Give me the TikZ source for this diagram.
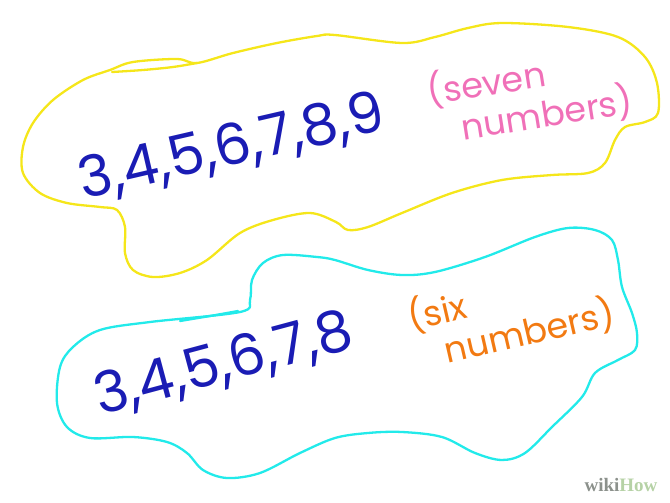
\documentclass[tikz,border=0pt]{standalone}
\usepackage{fontspec}
\setmainfont{Poppins}
\newfontfamily\wmfont{Liberation Serif}
\usetikzlibrary{positioning}
\definecolor{blobyellow}{HTML}{F5E61A}
\definecolor{blobcyan}{HTML}{22EAEA}
\definecolor{numblue}{HTML}{1A1CB4}
\definecolor{seqpink}{HTML}{F070B8}
\definecolor{seqorange}{HTML}{F27A12}
\definecolor{wmgray}{HTML}{8C918C}
\definecolor{wmgreen}{HTML}{B6D2A6}
\tikzset{
  blob/.style    ={line width=2.3pt, line join=round, line cap=round},
  numseq/.style  ={text=numblue, font=\fontsize{57}{57}\selectfont, inner sep=0pt},
  countlbl/.style={font=\fontsize{35}{34}\selectfont, align=left, inner sep=0pt},
  wm/.style      ={font=\wmfont\bfseries\fontsize{19}{19}\selectfont, inner sep=0pt},
}

\begin{document}
\begin{tikzpicture}[x=1pt,y=-1pt]
  \useasboundingbox (0,0) rectangle (670,503);
  % yellow blob
  \draw[blob, blobyellow] plot[smooth cycle, tension=0.55] coordinates {
    (110,70) (133,62) (177,59) (197,63) (233,53) (277,43) (317,36) (335,35)
    (402,43) (435,37) (468,28) (502,23) (568,27) (618,37) (645,57) (657,83)
    (658,113) (645,122) (625,127) (615,140) (605,163) (588,173) (552,175)
    (502,180) (452,193) (402,213) (368,227) (348,230) (336,222) (310,213)
    (273,220) (240,233) (207,260) (180,273) (153,277) (133,270) (125,253)
    (125,227) (117,210) (100,207) (67,203) (40,193) (23,173) (23,147)
    (33,123) (53,100) (83,80)};
  \draw[blob, blobyellow] plot[smooth, tension=0.55] coordinates {(112,72) (143,70) (173,67) (197,63)};
  % cyan blob
  \draw[blob, blobcyan] plot[smooth cycle, tension=0.55] coordinates {
    (252,280) (263,263) (283,255) (317,257) (335,260) (368,270) (402,275)
    (435,272) (485,257) (535,237) (568,228) (595,230) (612,240) (618,260)
    (622,287) (632,313) (637,333) (635,350) (618,360) (595,373) (582,397)
    (552,427) (525,453) (502,460) (475,453) (442,437) (402,432) (368,433)
    (335,438) (300,453) (260,473) (227,478) (203,470) (187,453) (167,442)
    (133,437) (90,438) (67,427) (57,403) (60,367) (73,347) (100,330)
    (150,322) (240,312) (250,300)};
  \draw[blob, blobcyan] plot[smooth, tension=0.55] coordinates {(180,321) (210,316) (238,311)};

  \node[numseq, rotate=13] (seven) at (232,148) {3,4,5,6,7,8,9};
  \node[countlbl, text=seqpink, rotate=9] (sevenlbl) at (530,96) {(seven\\\hspace*{0.8em}numbers)};
  \node[numseq, rotate=15] (six) at (224,365) {3,4,5,6,7,8};
  \node[countlbl, text=seqorange, rotate=13] (sixlbl) at (511,315) {(six\\\hspace*{0.8em}numbers)};

  \node[wm] (logo) at (621,485) {\textcolor{wmgray}{wiki}\textcolor{wmgreen}{How}};
\end{tikzpicture}
\end{document}
